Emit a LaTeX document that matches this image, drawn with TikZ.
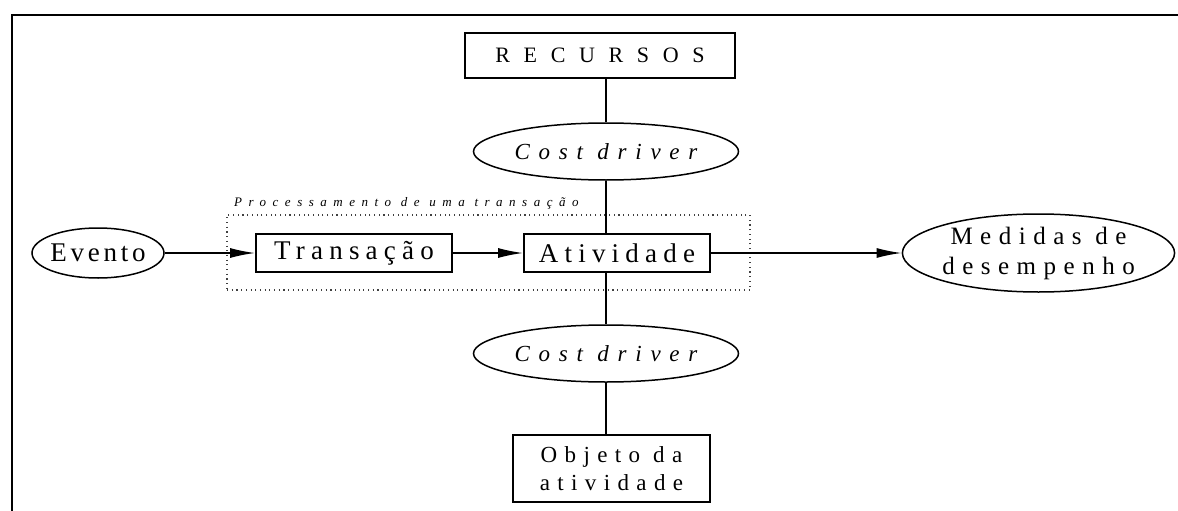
\documentclass[tikz,border=0pt]{standalone}
\usepackage{fontspec}
\setmainfont{Liberation Serif}
\usetikzlibrary{shapes.geometric,arrows.meta}

% letter-spaced text in a given size
\newcommand{\spaced}[3]{\fontsize{#1}{#2}\selectfont\addfontfeatures{LetterSpace=#3}}

\begin{document}
\begin{tikzpicture}[x=1pt,y=-1pt,
  box/.style={draw, line width=1.7pt, rectangle, inner sep=0pt, align=center},
  oval/.style={draw, line width=1.5pt, ellipse, inner sep=0pt, align=center},
  group/.style={draw=black!75, line width=1.1pt, dash pattern=on 1.1pt off 3.6pt, rectangle, inner sep=0pt},
  link/.style={line width=1.6pt},
  flow/.style={line width=1.6pt, -{Latex[length=25pt,width=10pt]}},
  frameline/.style={line width=1.8pt},
  bigtxt/.style={font=\spaced{27}{32}{23}},
  evtxt/.style={font=\spaced{27}{32}{14}},
  midtxt/.style={font=\spaced{25}{30}{30}},
  objtxt/.style={font=\spaced{23}{28}{32}},
  captxt/.style={font=\spaced{22}{26}{62}},
  drvtxt/.style={font=\itshape\spaced{23}{27}{38}},
  grptxt/.style={font=\itshape\spaced{13}{15}{50}}
]
\useasboundingbox (0,0) rectangle (1178,511);

% outer frame (top and left sides)
\draw[frameline] (12,511) -- (12,15) -- (1178,15);

% group of the transaction processing
\node[group, minimum width=523pt, minimum height=75pt] (grp) at (488.5,252.5) {};
\node[grptxt, anchor=base west, inner sep=0pt] (grplbl) at (234,206) {Processamento de uma transação};

% nodes
\node[box, captxt, minimum width=270pt, minimum height=45pt] (rec) at (600,55.5) {RECURSOS};
\node[oval, drvtxt, minimum width=265pt, minimum height=57pt] (cd1) at (606,151.5) {Cost driver};
\node[oval, evtxt, inner xsep=-10pt, minimum width=132pt, minimum height=50pt] (ev) at (98,253) {Evento};
\node[box, bigtxt, minimum width=196pt, minimum height=38pt] (tra) at (354,253) {Transação};
\node[box, bigtxt, minimum width=186pt, minimum height=38pt] (act) at (617,253) {Atividade};
\node[oval, midtxt, minimum width=267pt, minimum height=78pt] (med) at (1038.5,253) {Medidas de\\desempenho};
\node[oval, drvtxt, minimum width=265pt, minimum height=57pt] (cd2) at (606,353.5) {Cost driver};
\node[box, objtxt, minimum width=197pt, minimum height=67pt] (obj) at (611.5,468.5) {Objeto da\\atividade};

% vertical links
\draw[link] (cd1.north |- rec.south) -- (cd1.north);
\draw[link] (cd1.south) -- (cd1.south |- act.north);
\draw[link] (cd2.north |- act.south) -- (cd2.north);
\draw[link] (cd2.south) -- (cd2.south |- obj.north);

% flow arrows
\draw[flow] (ev) -- (tra);
\draw[flow] (tra) -- (act);
\draw[flow] (act) -- (med);
\end{tikzpicture}
\end{document}
